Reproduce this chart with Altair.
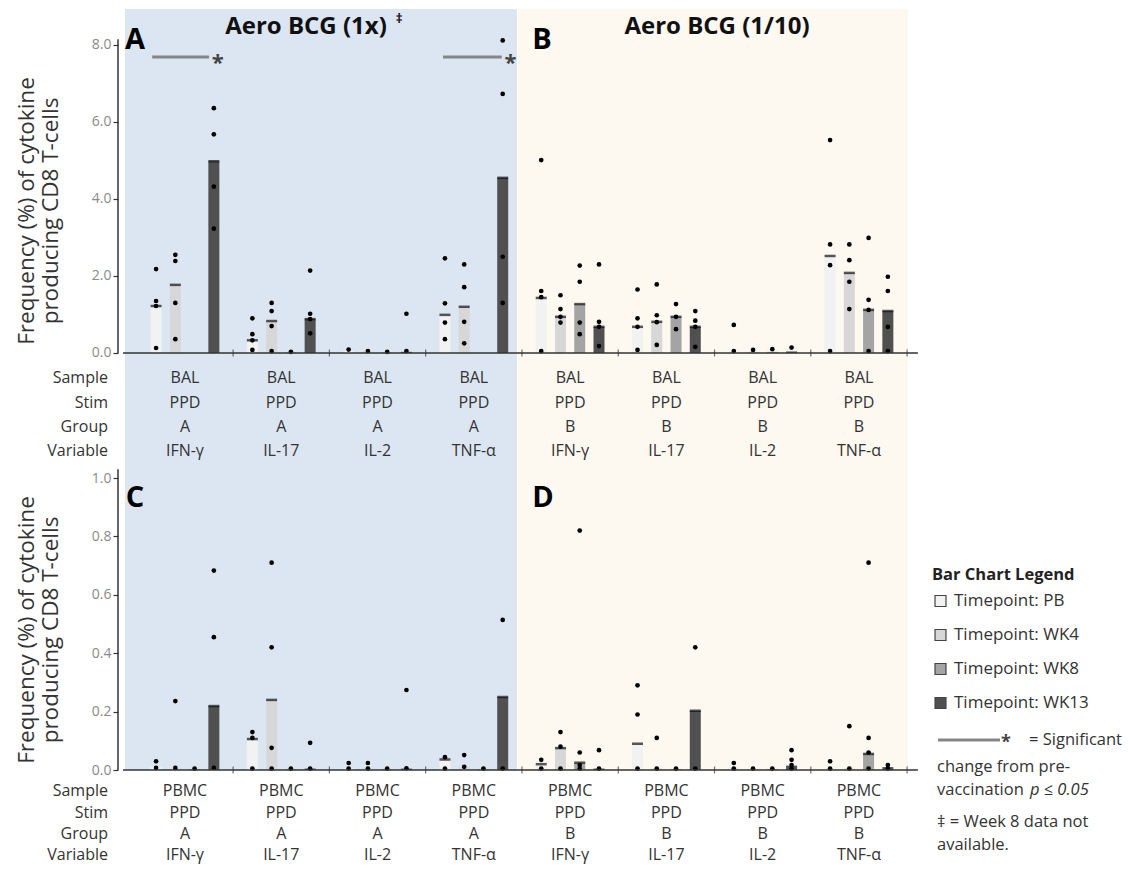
import altair as alt
import pandas as pd

# ---------------- data ----------------
variables = ["IFN-γ", "IL-17", "IL-2", "TNF-α"]
timepoints = ["PB", "WK4", "WK8", "WK13"]
tp_colors = ["#f2f2f2", "#d7d7d7", "#a4a4a4", "#505050"]
row_headers = ["Sample", "Stim", "Group", "Variable"]
group_names = ["A", "B"]
top_sample = "BAL"
bottom_sample = "PBMC"
stim_name = "PPD"
panel_titles = ["Aero BCG (1x)", "Aero BCG (1/10)"]
panel_letters = ["A", "B", "C", "D"]

# bar heights [variable][timepoint]; None = no data
bars_A = [
    [1.22, 1.77, None, 4.98],
    [0.33, 0.83, 0.02, 0.88],
    [0.05, 0.04, 0.02, 0.03],
    [0.99, 1.20, None, 4.55],
]
dots_A = [
    [[2.18, 1.35, 1.22, 0.13], [2.55, 2.39, 1.30, 0.36], [], [6.36, 5.68, 4.32, 3.23]],
    [[0.90, 0.49, 0.33, 0.08], [1.30, 1.09, 0.70, 0.05], [0.03], [2.14, 1.02, 0.88, 0.51]],
    [[0.09], [0.05], [0.03], [1.02, 0.05]],
    [[2.46, 1.29, 0.79, 0.36], [2.30, 1.71, 0.81, 0.25], [], [8.12, 6.73, 2.50, 1.30]],
]
bars_B = [
    [1.43, 0.94, 1.27, 0.68],
    [0.68, 0.81, 0.94, 0.68],
    [0.03, 0.03, 0.03, 0.04],
    [2.52, 2.08, 1.12, 1.09],
]
dots_B = [
    [[5.01, 1.61, 1.45, 0.05], [1.50, 1.14, 0.94, 0.79], [2.27, 1.85, 0.79, 0.49], [2.30, 0.81, 0.68, 0.18]],
    [[1.65, 0.90, 0.68, 0.08], [1.78, 0.98, 0.80, 0.21], [1.27, 0.94, 0.62], [1.09, 0.84, 0.68, 0.16]],
    [[0.73, 0.05], [0.08], [0.10], [0.14]],
    [[5.53, 2.82, 2.28, 0.05], [2.82, 2.41, 1.85, 1.14], [2.99, 1.38, 1.12, 0.05], [1.98, 1.61, 0.68, 0.05]],
]
bars_C = [
    [0.010, 0.005, 0.003, 0.219],
    [0.106, 0.240, 0.003, 0.005],
    [0.005, 0.005, 0.003, 0.005],
    [0.036, 0.010, 0.003, 0.250],
]
dots_C = [
    [[0.030, 0.007], [0.236, 0.007], [0.005], [0.683, 0.455, 0.007]],
    [[0.130, 0.110, 0.005], [0.710, 0.420, 0.076, 0.005], [0.005], [0.093, 0.005]],
    [[0.024, 0.005], [0.024, 0.005], [0.005], [0.274, 0.006]],
    [[0.044, 0.005], [0.051, 0.011], [0.005], [0.514, 0.005]],
]
bars_D = [
    [0.020, 0.075, 0.025, 0.005],
    [0.090, 0.005, 0.003, 0.203],
    [0.010, 0.003, 0.003, 0.015],
    [0.005, 0.005, 0.055, 0.010],
]
dots_D = [
    [[0.035, 0.005], [0.130, 0.080, 0.005], [0.820, 0.060, 0.017, 0.005], [0.068, 0.005]],
    [[0.290, 0.190, 0.005], [0.110, 0.005], [0.005], [0.420, 0.005]],
    [[0.024, 0.005], [0.005], [0.005], [0.068, 0.035, 0.017, 0.005]],
    [[0.030, 0.005], [0.150, 0.005], [0.710, 0.110, 0.060, 0.005], [0.017, 0.005]],
]

top_ticks = [0, 2, 4, 6, 8]
bottom_ticks = [0, 0.2, 0.4, 0.6, 0.8, 1.0]

# significance brackets (top row, group A): in slot units
sig_start = [0.8, 15.9]
sig_end = [3.75, 18.95]
sig_star = [4.2, 19.4]
sig_level = [7.69, 7.69]

# ---------------- layout ----------------
FONT = "Open Sans"
W, H = 802, 852
XDOM = [-0.718, 40.41]
TOPDOM = [-13.169, 8.961]
BOTDOM = [-0.3082, 2.6096]

xs = alt.Scale(domain=XDOM, nice=False, zero=False)
color_scale = alt.Scale(domain=timepoints, range=tp_colors)
LEG = alt.Legend(
    orient="none", legendX=814, legendY=559, direction="vertical",
    title="Bar Chart Legend", titleFont=FONT, titleFontSize=16.5, titleFontWeight="bold",
    titleColor="#222", titlePadding=9,
    labelFont=FONT, labelFontSize=17, labelColor="#333", labelOffset=5,
    labelExpr="'Timepoint: ' + datum.label",
    symbolType="square", symbolSize=120, symbolStrokeColor="#444", symbolStrokeWidth=1.2,
    rowPadding=16,
)


def bar_frame(left, right):
    rows = []
    for p, bars in enumerate([left, right]):
        for vi, per_var in enumerate(bars):
            for ti, v in enumerate(per_var):
                if v is None:
                    continue
                rows.append({"slot": (p * 4 + vi) * 5 + ti + 1, "tp": timepoints[ti], "v": v, "zero": 0})
    return pd.DataFrame(rows)


def dot_frame(left, right):
    rows = []
    for p, dots in enumerate([left, right]):
        for vi, per_var in enumerate(dots):
            for ti, vals in enumerate(per_var):
                for v in vals:
                    rows.append({"slot": (p * 4 + vi) * 5 + ti + 1, "v": v})
    return pd.DataFrame(rows)


def row_layers(bars_l, bars_r, dots_l, dots_r, ydom, ticks, axis_top, thr, sample, label_rows, first_extra):
    ys = alt.Scale(domain=ydom, nice=False, zero=False)
    axis = alt.Axis(values=ticks, format=".1f", orient="left", domain=False, grid=False,
                    tickSize=5, tickColor="#333", tickWidth=1.2, labelColor="#8a8a8a",
                    labelFont=FONT, labelFontSize=14, labelPadding=2, title=None)
    X = alt.X("slot:Q", scale=xs, axis=None)
    bdf = bar_frame(bars_l, bars_r)
    ddf = dot_frame(dots_l, dots_r)
    layers = list(first_extra(ys, axis))
    layers.append(
        alt.Chart(bdf).mark_bar(size=11).encode(
            x=X, y=alt.Y("v:Q", scale=ys, axis=axis), y2=alt.Y2("zero:Q"),
            color=alt.Color("tp:N", scale=color_scale, legend=LEG),
        )
    )
    layers.append(
        alt.Chart(bdf[bdf.v > thr]).mark_tick(orient="horizontal", size=11, thickness=2.5, color="#111").encode(
            x=X, y=alt.Y("v:Q", scale=ys, axis=axis)
        )
    )
    layers.append(
        alt.Chart(ddf).mark_circle(size=22, color="#000", opacity=1).encode(
            x=X, y=alt.Y("v:Q", scale=ys, axis=axis)
        )
    )
    # x axis line and ticks at y = 0
    layers.append(
        alt.Chart(pd.DataFrame({"x0": [XDOM[0]], "x1": [40.56], "v": [0]})).mark_rule(
            color="#333", strokeWidth=1.5).encode(
            x=alt.X("x0:Q", scale=xs, axis=None), x2="x1:Q", y=alt.Y("v:Q", scale=ys, axis=axis))
    )
    layers.append(
        alt.Chart(pd.DataFrame({"b": [5 * k for k in range(1, 9)], "v": 0})).mark_tick(
            orient="vertical", size=7, thickness=1.2, color="#333").encode(
            x=alt.X("b:Q", scale=xs, axis=None), y=alt.Y("v:Q", scale=ys, axis=axis))
    )
    # y axis line
    layers.append(
        alt.Chart(pd.DataFrame({"v0": [0], "v1": [axis_top]})).mark_rule(
            color="#333", strokeWidth=1.5).encode(
            x=alt.value(0), y=alt.Y("v0:Q", scale=ys, axis=axis), y2="v1:Q")
    )
    # category label rows
    lab = []
    for g in range(8):
        c = g * 5 + 2.5
        lab.append({"c": c, "r": 0, "t": sample})
        lab.append({"c": c, "r": 1, "t": stim_name})
        lab.append({"c": c, "r": 2, "t": group_names[g // 4]})
        lab.append({"c": c, "r": 3, "t": variables[g % 4]})
    lab = pd.DataFrame(lab)
    for r in range(4):
        layers.append(
            alt.Chart(lab[lab.r == r]).mark_text(font=FONT, fontSize=16, color="#333").encode(
                x=alt.X("c:Q", scale=xs, axis=None), y=alt.value(label_rows[r]), text="t:N")
        )
        layers.append(
            alt.Chart(pd.DataFrame({"t": [row_headers[r]]})).mark_text(
                font=FONT, fontSize=16, color="#333", align="right").encode(
                x=alt.value(-10), y=alt.value(label_rows[r]), text="t:N")
        )
    return layers, ys, axis


def bottom_extra(ys, axis):
    bg = pd.DataFrame({"x0": [-0.615], "x1": [19.74], "v": [0]})
    bg2 = pd.DataFrame({"x0": [19.79], "x1": [40.05], "v": [0]})
    return [
        alt.Chart(bg).mark_rect(color="#dce6f2").encode(
            x=alt.X("x0:Q", scale=xs, axis=None), x2="x1:Q",
            y=alt.Y("v:Q", scale=ys, axis=axis), y2=alt.value(1)),
        alt.Chart(bg2).mark_rect(color="#fdf8f0").encode(
            x=alt.X("x0:Q", scale=xs, axis=None), x2="x1:Q",
            y=alt.Y("v:Q", scale=ys, axis=axis), y2=alt.value(1)),
    ]


def no_extra(ys, axis):
    return []


bot_layers, _, _ = row_layers(bars_C, bars_D, dots_C, dots_D, BOTDOM, bottom_ticks, 1.03, 0.015,
                              bottom_sample, [783, 805, 826, 847], bottom_extra)
top_layers, ys_top, axis_top = row_layers(bars_A, bars_B, dots_A, dots_B, TOPDOM, top_ticks, 8.15, 0.1,
                                          top_sample, [370, 395, 419, 443], no_extra)

# significance brackets
sig = pd.DataFrame({"s0": sig_start, "s1": sig_end, "st": sig_star, "lvl": sig_level})
top_layers.append(
    alt.Chart(sig).mark_rule(color="#858585", strokeWidth=3).encode(
        x=alt.X("s0:Q", scale=xs, axis=None), x2="s1:Q", y=alt.Y("lvl:Q", scale=ys_top, axis=axis_top))
)
top_layers.append(
    alt.Chart(sig).mark_text(text="*", font=FONT, fontSize=22, fontWeight="bold", color="#444",
                             baseline="middle", dy=6).encode(
        x=alt.X("st:Q", scale=xs, axis=None), y=alt.Y("lvl:Q", scale=ys_top, axis=axis_top))
)

one = pd.DataFrame({"k": [0]})


def note(text, x, y, size=16, weight="normal", align="left", color="#333", style="normal", angle=0, lh=None):
    kw = dict(text=text, font=FONT, fontSize=size, fontWeight=weight, align=align, color=color,
              baseline="middle", fontStyle=style)
    if angle:
        kw["angle"] = angle
    if lh:
        kw["lineHeight"] = lh
    return alt.Chart(one).mark_text(**kw).encode(x=alt.value(x), y=alt.value(y))


ytitle = ["Frequency (%) of cytokine", "producing CD8 T-cells"]
annots = [
    note(panel_titles[0], 188, 19, size=24, weight="bold", align="center", color="#111"),
    note("‡", 281, 11, size=13, weight="bold", align="center", color="#111"),
    note(panel_titles[1], 599, 19, size=24, weight="bold", align="center", color="#111"),
    note(panel_letters[0], 17, 32, size=29, weight="bold", align="center", color="#000"),
    note(panel_letters[1], 424, 32, size=29, weight="bold", align="center", color="#000"),
    note(panel_letters[2], 17, 490, size=29, weight="bold", align="center", color="#000"),
    note(panel_letters[3], 425, 490, size=29, weight="bold", align="center", color="#000"),
    note(ytitle, -91, 203, size=22.5, align="center", angle=270, lh=24),
    note(ytitle, -91, 622, size=22.5, align="center", angle=270, lh=24),
    # significance legend
    alt.Chart(one).mark_rule(color="#858585", strokeWidth=3).encode(
        x=alt.value(820), x2=alt.value(882), y=alt.value(732)),
    note("*", 888, 735, size=18, weight="bold", align="center", color="#444"),
    note("= Significant", 911, 732, size=16.5),
    note("change from pre-", 819, 759, size=16.5),
    note("vaccination", 819, 782, size=16.5),
    note("p ≤ 0.05", 912, 782, size=16.5, style="italic"),
    note("‡ = Week 8 data not", 819, 814, size=16.5),
    note("available.", 819, 837, size=16.5),
]
top_layers.extend(annots)

chart = alt.layer(alt.layer(*bot_layers), alt.layer(*top_layers)).resolve_scale(y="independent")
chart = chart.properties(
    width=W, height=H,
    padding={"left": 110, "top": 0, "right": 204, "bottom": 10},
    autosize=alt.AutoSizeParams(type="none"),
    background="white",
).configure_view(strokeWidth=0)

chart.save("out.html", embed_options={"renderer": "svg", "actions": False})
